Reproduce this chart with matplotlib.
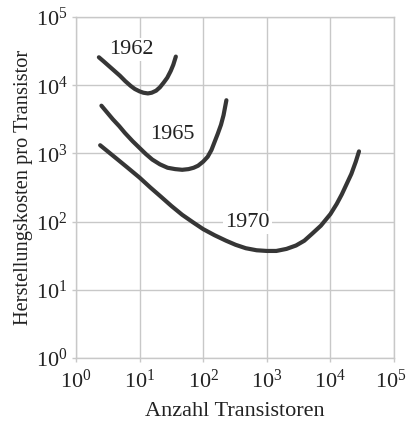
import numpy as np
import matplotlib
matplotlib.use("Agg")
import matplotlib.pyplot as plt
from matplotlib.transforms import ScaledTranslation

plt.rcParams['font.family'] = ['Liberation Serif', 'DejaVu Serif']
plt.rcParams['mathtext.fontset'] = 'custom'
plt.rcParams['mathtext.rm'] = 'Liberation Serif'
plt.rcParams['mathtext.it'] = 'Liberation Serif'

# curves, as log10(transistors) / log10(cost)
log_n_1962 = [0.36, 0.435, 0.52, 0.605, 0.69, 0.775, 0.86, 0.925, 1.00, 1.06, 1.13, 1.19,
              1.26, 1.32, 1.38, 1.435, 1.49, 1.53, 1.57]
log_c_1962 = [4.41, 4.35, 4.28, 4.21, 4.14, 4.06, 3.99, 3.945, 3.91, 3.89, 3.88, 3.89,
              3.92, 3.97, 4.04, 4.11, 4.21, 4.30, 4.42]

log_n_1965 = [0.40, 0.49, 0.58, 0.68, 0.77, 0.89, 1.00, 1.10, 1.20, 1.32, 1.44, 1.56,
              1.67, 1.77, 1.85, 1.92, 2.00, 2.07, 2.13, 2.18, 2.23, 2.28, 2.32, 2.365]
log_c_1965 = [3.70, 3.60, 3.50, 3.40, 3.30, 3.18, 3.08, 2.99, 2.91, 2.84, 2.79, 2.77,
              2.76, 2.77, 2.79, 2.82, 2.88, 2.95, 3.05, 3.17, 3.29, 3.42, 3.56, 3.78]

log_n_1970 = [0.38, 0.63, 0.80, 1.00, 1.17, 1.33, 1.50, 1.67, 1.84, 2.00, 2.18, 2.36,
              2.51, 2.67, 2.84, 3.00, 3.15, 3.31, 3.46, 3.59, 3.71, 3.85, 4.00, 4.10,
              4.18, 4.25, 4.33, 4.40, 4.45]
log_c_1970 = [3.12, 2.93, 2.80, 2.645, 2.50, 2.37, 2.23, 2.10, 1.99, 1.89, 1.80, 1.72,
              1.66, 1.61, 1.58, 1.57, 1.57, 1.60, 1.65, 1.72, 1.82, 1.94, 2.11, 2.26,
              2.40, 2.54, 2.70, 2.88, 3.03]

years = ["1962", "1965", "1970"]
label_log_n = [0.87, 1.51, 2.70]
label_log_c = [4.53, 3.28, 1.98]

fig = plt.figure(figsize=(4.07, 4.26), dpi=100)
ax = fig.add_axes([0.1867, 0.1596, 0.968 - 0.1867, 0.960 - 0.1596])

line_color = '#363636'
for xs, ys in [(log_n_1962, log_c_1962), (log_n_1965, log_c_1965), (log_n_1970, log_c_1970)]:
    ax.plot(10 ** np.array(xs), 10 ** np.array(ys), color=line_color, lw=3.0,
            solid_capstyle='round', solid_joinstyle='round', zorder=3)

for year, lx, ly in zip(years, label_log_n, label_log_c):
    ax.text(10 ** lx, 10 ** ly, year, fontsize=16, ha='center', va='center', color='#222222',
            zorder=4, bbox=dict(facecolor='white', edgecolor='none', pad=1.5))

ax.set_xscale('log')
ax.set_yscale('log')
ax.set_xlim(1, 1e5)
ax.set_ylim(1, 1e5)
ax.minorticks_off()
ticks = [10 ** i for i in range(6)]
ax.set_xticks(ticks)
ax.set_yticks(ticks)
ax.set_xticklabels([r'$10^{%d}$' % i for i in range(6)])
ax.set_yticklabels([r'$10^{%d}$' % i for i in range(6)])

ax.grid(True, color='#c8c8c8', lw=1.0, zorder=0)
ax.set_axisbelow(True)
for s in ax.spines.values():
    s.set_color('#c8c8c8')
    s.set_linewidth(1.0)
ax.tick_params(axis='both', which='major', length=3, width=1.0, color='#c8c8c8',
               labelsize=16, labelcolor='#222222')
ax.tick_params(axis='x', pad=5)
ax.tick_params(axis='y', pad=3)

# nudge the last x label so it stays inside the picture
last = ax.get_xticklabels()[-1]
last.set_transform(last.get_transform() + ScaledTranslation(-0.03, 0, fig.dpi_scale_trans))

ax.set_xlabel('Anzahl Transistoren', fontsize=16, color='#222222', labelpad=7)
ax.set_ylabel('Herstellungskosten pro Transistor', fontsize=14.7, color='#222222', labelpad=2)

fig.savefig('out.png', dpi=100)
